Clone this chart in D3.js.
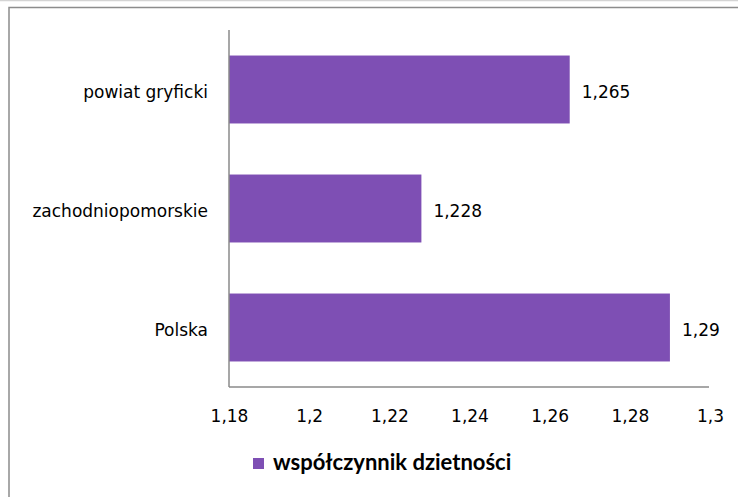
<!DOCTYPE html>
<html>
<head>
<meta charset="utf-8">
<script src="https://cdn.jsdelivr.net/npm/d3@7"></script>
<style>
  body { margin: 0; background: #fff; }
  text { font-family: "DejaVu Sans", Verdana, sans-serif; fill: #000; }
</style>
</head>
<body>
<div id="chart"></div>
<script>
// Data
const categories = ['powiat gryficki', 'zachodniopomorskie', 'Polska'];
const values = [1.265, 1.228, 1.29];
const tickValues = [1.18, 1.2, 1.22, 1.24, 1.26, 1.28, 1.3];
const seriesName = 'współczynnik dzietności';

const W = 738, H = 497;
const barColor = '#7e4fb4';

// format numbers with a comma as decimal separator
const fmt = d => String(+d.toFixed(3)).replace('.', ',');

const svg = d3.select('#chart').append('svg')
  .attr('width', W)
  .attr('height', H);

// outer frame (only left and top edges are visible)
svg.append('line')
  .attr('x1', 0).attr('x2', W).attr('y1', 0.5).attr('y2', 0.5)
  .attr('stroke', '#d4d4d4').attr('stroke-width', 1.5);
svg.append('rect')
  .attr('x', 9).attr('y', 7.5)
  .attr('width', W + 20).attr('height', H + 20)
  .attr('fill', 'none')
  .attr('stroke', '#8c8c8c').attr('stroke-width', 1.5);

// scales
const x = d3.scaleLinear()
  .domain([1.18, 1.3])
  .range([229, 710]);

const y = d3.scaleBand()
  .domain(categories)
  .range([30, 387])
  .paddingInner(0.429)
  .paddingOuter(0.2145);

// bars
svg.selectAll('.bar')
  .data(values)
  .enter().append('rect')
  .attr('class', 'bar')
  .attr('x', x(1.18))
  .attr('y', (d, i) => y(categories[i]))
  .attr('width', d => x(d) - x(1.18))
  .attr('height', y.bandwidth())
  .attr('fill', barColor);

// value labels
svg.selectAll('.val')
  .data(values)
  .enter().append('text')
  .attr('class', 'val')
  .attr('x', d => x(d) + 12)
  .attr('y', (d, i) => y(categories[i]) + y.bandwidth() / 2 + 8)
  .attr('font-size', 17)
  .text(d => fmt(d));

// y axis
const yAxis = svg.append('g')
  .attr('class', 'axis axis-y')
  .attr('transform', 'translate(229,0)')
  .call(d3.axisLeft(y).tickSize(0).tickPadding(21));
yAxis.select('.domain').remove();
yAxis.selectAll('text')
  .attr('font-size', 17)
  .attr('dy', null)
  .attr('y', 8)
  .style('font-family', '"DejaVu Sans", Verdana, sans-serif');
svg.append('line')
  .attr('x1', 229).attr('x2', 229)
  .attr('y1', 30).attr('y2', 387)
  .attr('stroke', '#8a8a8a').attr('stroke-width', 1.5);

// x axis
const xAxis = svg.append('g')
  .attr('class', 'axis axis-x')
  .attr('transform', 'translate(0,387)')
  .call(d3.axisBottom(x).tickValues(tickValues).tickSize(0).tickFormat(fmt));
xAxis.select('.domain').remove();
xAxis.selectAll('text')
  .attr('font-size', 17)
  .attr('dy', null)
  .attr('y', 35)
  .style('font-family', '"DejaVu Sans", Verdana, sans-serif');
svg.append('line')
  .attr('x1', 229).attr('x2', 709)
  .attr('y1', 387).attr('y2', 387)
  .attr('stroke', '#8a8a8a').attr('stroke-width', 1.5);

// legend
const legend = svg.append('g').attr('class', 'legend');
legend.append('rect')
  .attr('x', 253).attr('y', 458)
  .attr('width', 11).attr('height', 11)
  .attr('fill', barColor);
legend.append('text')
  .attr('x', 273).attr('y', 470)
  .attr('font-size', 22)
  .attr('font-weight', 'bold')
  .style('font-family', 'Lato, "Open Sans", sans-serif')
  .text(seriesName);
</script>
</body>
</html>
